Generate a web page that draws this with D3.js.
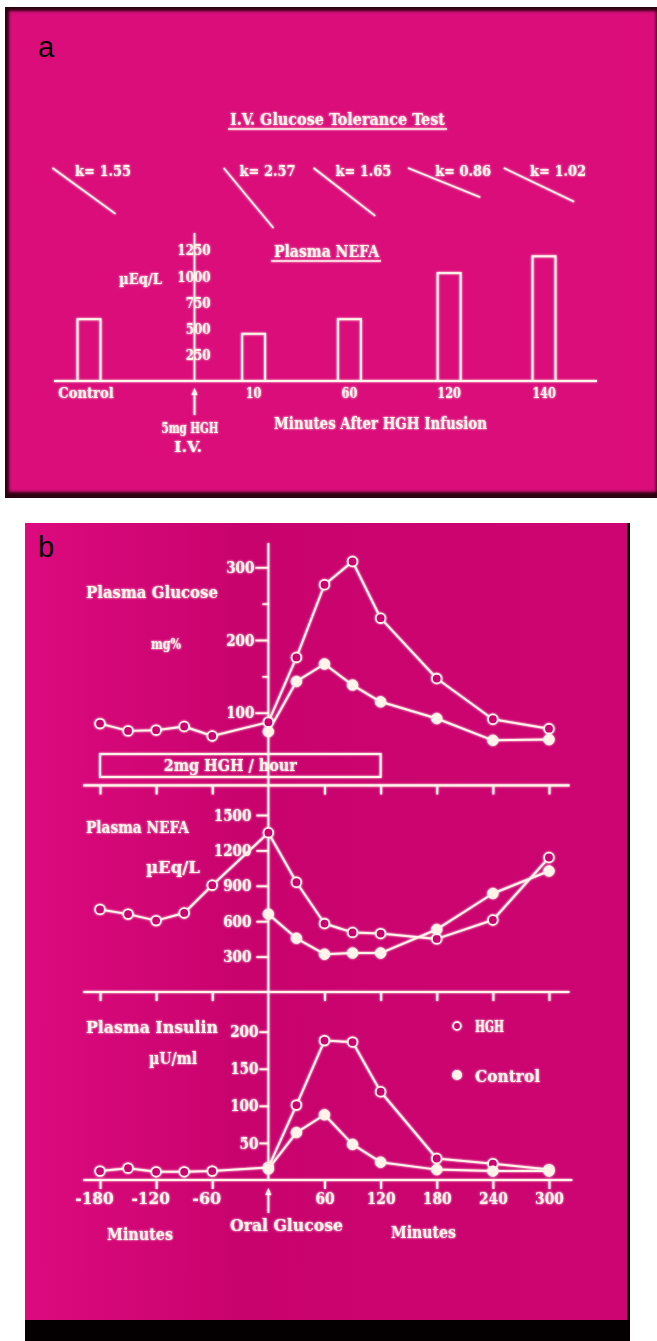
<!DOCTYPE html>
<html>
<head>
<meta charset="utf-8">
<script src="https://cdn.jsdelivr.net/npm/d3@7"></script>
<style>
body { margin: 0; background: #ffffff; }
svg { display: block; }
.font {
    font-family: "DejaVu Serif Condensed", "DejaVu Serif", serif;
    font-weight: bold;
    font-stretch: condensed;
    fill: #fff3ea;
}
.panel-letter { font-family: "Liberation Sans", Arial, sans-serif; fill: #000; }
</style>
</head>
<body>
<svg id="chart"></svg>
<script>
const SVG_WIDTH = 657;
const SVG_HEIGHT = 1341;
const INK = "#fff3ea";
const PINK_A = "#da087a";
const PINK_B = "#ca046f";

// ---- panel a : IV glucose tolerance + plasma NEFA bars
const NEFA_CATEGORIES = ["Control", "10", "60", "120", "140"];
const NEFA_VALUES = [590, 450, 590, 1030, 1190];
const K_VALUES = [1.55, 2.57, 1.65, 0.86, 1.02];
const NEFA_BAR_TICKS = [250, 500, 750, 1000, 1250];
// where each category sits along the baseline (HGH injection at 1.09)
const CATEGORY_SLOTS = [0, 1.7, 2.69, 3.72, 4.7];
const INJECTION_SLOT = 1.09;

// ---- panel b : oral glucose with HGH infusion
const TIMES = [-180, -150, -120, -90, -60, 0, 30, 60, 90, 120, 180, 240, 300];
const CONTROL_TIMES = [0, 30, 60, 90, 120, 180, 240, 300];
const TIME_TICKS = [-180, -120, -60, 60, 120, 180, 240, 300];
const GLUCOSE_HGH = [85, 75, 76, 81, 68, 87, 176, 276, 308, 230, 147, 91, 78];
const GLUCOSE_CONTROL = [74, 143, 167, 138, 115, 92, 62, 63];
const NEFA_HGH = [700, 660, 605, 670, 905, 1350, 930, 580, 505, 495, 450, 610, 1140];
const NEFA_CONTROL = [660, 455, 320, 330, 330, 530, 835, 1025];
const INSULIN_HGH = [12, 16, 11, 11, 12, 17, 101, 188, 186, 119, 29, 22, 14];
const INSULIN_CONTROL = [15, 64, 88, 48, 24, 14, 12, 12];
const GLUCOSE_TICKS = [100, 200, 300];
const GLUCOSE_MINOR = [150, 250];
const NEFA_TICKS = [300, 600, 900, 1200, 1500];
const INSULIN_TICKS = [50, 100, 150, 200];
const INFUSION = [-180, 120];

var svg = d3.select("#chart")
    .attr("width", SVG_WIDTH)
    .attr("height", SVG_HEIGHT);

var defs = svg.append("defs");
var glow = defs.append("filter")
    .attr("id", "glow")
    .attr("filterUnits", "userSpaceOnUse")
    .attr("x", 0).attr("y", 0)
    .attr("width", SVG_WIDTH).attr("height", SVG_HEIGHT);
glow.append("feGaussianBlur")
    .attr("in", "SourceGraphic")
    .attr("stdDeviation", 0.8)
    .attr("result", "blur");
var merge = glow.append("feMerge");
merge.append("feMergeNode").attr("in", "blur");
merge.append("feMergeNode").attr("in", "SourceGraphic");

var soft = defs.append("filter").attr("id", "soft");
soft.append("feGaussianBlur").attr("stdDeviation", 1.4);

var gradB = defs.append("linearGradient")
    .attr("id", "pinkB")
    .attr("x1", "0").attr("x2", "1").attr("y1", "0").attr("y2", "0");
gradB.append("stop").attr("offset", "0%").attr("stop-color", "#dc0a7e");
gradB.append("stop").attr("offset", "35%").attr("stop-color", "#c9036e");
gradB.append("stop").attr("offset", "100%").attr("stop-color", "#cd0572");

// helper for slide lettering
function label(g, txt, x, y, size, width, anchor) {
    var t = g.append("text")
        .attr("x", x)
        .attr("y", y)
        .attr("font-size", size)
        .attr("text-anchor", anchor || "start")
        .classed("font", true)
        .text(txt);
    if (width) {
        t.attr("textLength", width).attr("lengthAdjust", "spacingAndGlyphs");
    }
    return t;
}

// squeeze axis labels to the slide's narrow lettering
function styleTicks(sel, size, perChar) {
    sel.classed("font", true)
        .attr("fill", null)
        .attr("font-size", size)
        .attr("lengthAdjust", "spacingAndGlyphs")
        .attr("textLength", function() {
            return this.textContent.length * perChar;
        });
}

function arrowUp(g, cx, yTop, yBottom) {
    g.append("line")
        .attr("x1", cx).attr("x2", cx)
        .attr("y1", yTop + 4).attr("y2", yBottom)
        .attr("stroke", INK).attr("stroke-width", 1.8);
    g.append("path")
        .attr("d", "M" + cx + "," + yTop + " l-3,7 l6,0 z")
        .attr("fill", INK);
}

// ================= panel a =================
svg.append("rect")
    .attr("x", 5).attr("y", 7)
    .attr("width", 652).attr("height", 491)
    .attr("fill", "#2a0410");
svg.append("rect")
    .attr("x", 9).attr("y", 11)
    .attr("width", 647).attr("height", 481)
    .attr("fill", PINK_A)
    .attr("filter", "url(#soft)");
svg.append("text")
    .attr("x", 38).attr("y", 57)
    .attr("font-size", 29)
    .classed("panel-letter", true)
    .text("a");

var gA = svg.append("g").attr("filter", "url(#glow)");

label(gA, "I.V. Glucose Tolerance Test", 230, 125, 16, 215);
gA.append("line")
    .attr("x1", 228).attr("x2", 447).attr("y1", 129).attr("y2", 129)
    .attr("stroke", INK).attr("stroke-width", 1.6);

var slotScale = d3.scaleLinear().domain([0, 4.7]).range([89, 544]);
var barCenter = function(i) { return slotScale(CATEGORY_SLOTS[i]); };
var yA = d3.scaleLinear().domain([0, 1250]).range([381, 250]);
var slopeScale = d3.scaleLinear().domain([0, 1]).range([0, 0.47]);

// disappearance slopes, one per category
K_VALUES.forEach(function(k, i) {
    var ang = Math.atan(slopeScale(k));
    var len = 78;
    var dx = len * Math.cos(ang);
    var dy = len * Math.sin(ang);
    var x0 = barCenter(i) - dx / 2 - 5;
    gA.append("line")
        .attr("x1", x0).attr("y1", 168)
        .attr("x2", x0 + dx).attr("y2", 168 + dy)
        .attr("stroke", INK).attr("stroke-width", 1.6);
    label(gA, "k= " + k.toFixed(2), barCenter(i) - 14, 176, 15, 56);
});

label(gA, "Plasma NEFA", 274, 257, 16, 105);
gA.append("line")
    .attr("x1", 271).attr("x2", 381).attr("y1", 261).attr("y2", 261)
    .attr("stroke", INK).attr("stroke-width", 1.6);
label(gA, "\u00B5Eq/L", 119, 284, 15, 43);

gA.selectAll(".nefa-bar")
    .data(NEFA_VALUES)
    .enter()
    .append("rect")
    .classed("nefa-bar", true)
    .attr("x", function(d, i) { return barCenter(i) - 11.5; })
    .attr("width", 23)
    .attr("y", function(d) { return yA(d); })
    .attr("height", function(d) { return yA(0) - yA(d); })
    .attr("fill", "none")
    .attr("stroke", INK)
    .attr("stroke-width", 2);

var injX = slotScale(INJECTION_SLOT);
var yAxisA = d3.axisLeft(yA)
    .tickValues(NEFA_BAR_TICKS)
    .tickSize(0)
    .tickPadding(-16)
    .tickFormat(d3.format("d"));
var yAxisAGroup = gA.append("g")
    .attr("transform", "translate(" + injX + ",0)")
    .call(yAxisA);
yAxisAGroup.select(".domain").remove();
styleTicks(yAxisAGroup.selectAll("text"), 15, 8.3);
gA.append("line")
    .attr("x1", injX).attr("x2", injX)
    .attr("y1", yA(1250) - 17).attr("y2", yA(0))
    .attr("stroke", INK).attr("stroke-width", 1.6);

gA.append("line")
    .attr("x1", 54).attr("x2", 597)
    .attr("y1", yA(0)).attr("y2", yA(0))
    .attr("stroke", INK).attr("stroke-width", 2.2);

var catLabels = gA.selectAll(".cat-label")
    .data(NEFA_CATEGORIES)
    .enter()
    .append("text")
    .classed("cat-label", true)
    .attr("x", function(d, i) { return barCenter(i) - (i === 0 ? 3 : 0); })
    .attr("y", 398)
    .attr("text-anchor", "middle")
    .text(function(d) { return d; });
styleTicks(catLabels, 15, 7.9);

arrowUp(gA, injX, 388, 415);
label(gA, "5mg HGH", 190, 433, 15, 57, "middle");
label(gA, "I.V.", 188, 452, 15, 28, "middle");
label(gA, "Minutes After HGH Infusion", 274, 429, 16, 213);

// ================= panel b =================
svg.append("rect")
    .attr("x", 25).attr("y", 523)
    .attr("width", 605).attr("height", 818)
    .attr("fill", "#040002");
svg.append("rect")
    .attr("x", 25).attr("y", 523)
    .attr("width", 602).attr("height", 797)
    .attr("fill", "url(#pinkB)");
svg.append("text")
    .attr("x", 38).attr("y", 557)
    .attr("font-size", 29)
    .classed("panel-letter", true)
    .text("b");

var gB = svg.append("g").attr("filter", "url(#glow)");

var x = d3.scaleLinear().domain([-180, 300]).range([100, 549]);
var yG = d3.scaleLinear().domain([0, 300]).range([785.4, 567.3]);
var yN = d3.scaleLinear().domain([0, 1500]).range([992, 815]);
var yI = d3.scaleLinear().domain([0, 200]).range([1180, 1031.7]);
var x0 = x(0);

// time axes under each sub-plot
[yG, yN, yI].forEach(function(yScale, idx) {
    var last = idx === 2;
    var axis = d3.axisBottom(x)
        .tickValues(TIME_TICKS)
        .tickSize(9)
        .tickPadding(4)
        .tickFormat(function(d) { return last ? String(d) : ""; });
    var grp = gB.append("g")
        .attr("transform", "translate(0," + yScale(0) + ")")
        .call(axis);
    grp.select(".domain").remove();
    grp.selectAll("line").attr("stroke", INK).attr("stroke-width", 2);
    if (last) {
        styleTicks(grp.selectAll("text"), 16, 9.6);
        grp.selectAll("text")
            .attr("dx", function(d) { return d < 0 ? -6 : 0; });
    }
    grp.append("line")
        .attr("x1", x(-198)).attr("x2", x(last ? 325 : 322))
        .attr("y1", 0).attr("y2", 0)
        .attr("stroke", INK).attr("stroke-width", 2.2);
});

// shared vertical axis at oral glucose
gB.append("line")
    .attr("x1", x0).attr("x2", x0)
    .attr("y1", 543).attr("y2", yI(0))
    .attr("stroke", INK).attr("stroke-width", 1.8);

function valueAxis(yScale, ticks, size, pad, minor) {
    var grp = gB.append("g")
        .attr("transform", "translate(" + x0 + ",0)")
        .call(d3.axisLeft(yScale)
            .tickValues(ticks)
            .tickSize(size)
            .tickPadding(pad)
            .tickFormat(d3.format("d")));
    grp.select(".domain").remove();
    grp.selectAll("line").attr("stroke", INK).attr("stroke-width", 1.8);
    styleTicks(grp.selectAll("text"), 16, 9.4);
    if (minor) {
        var m = gB.append("g")
            .attr("transform", "translate(" + x0 + ",0)")
            .call(d3.axisLeft(yScale).tickValues(minor).tickSize(6).tickFormat(""));
        m.select(".domain").remove();
        m.selectAll("line").attr("stroke", INK).attr("stroke-width", 1.6);
    }
}
valueAxis(yG, GLUCOSE_TICKS, 13, 1, GLUCOSE_MINOR);
valueAxis(yN, NEFA_TICKS, 12, 5);
valueAxis(yI, INSULIN_TICKS, 9, 1);

function series(yScale, times, values, open) {
    var pts = d3.zip(times, values).map(function(p) { return { t: p[0], v: p[1] }; });
    var line = d3.line()
        .x(function(d) { return x(d.t); })
        .y(function(d) { return yScale(d.v); });
    gB.append("path")
        .datum(pts)
        .attr("d", line)
        .attr("fill", "none")
        .attr("stroke", INK)
        .attr("stroke-width", 2)
        .attr("stroke-linejoin", "round");
    gB.append("g")
        .selectAll("circle")
        .data(pts)
        .enter()
        .append("circle")
        .attr("cx", function(d) { return x(d.t); })
        .attr("cy", function(d) { return yScale(d.v); })
        .attr("r", open ? 4.8 : 5.3)
        .attr("fill", open ? PINK_B : INK)
        .attr("stroke", INK)
        .attr("stroke-width", open ? 1.8 : 0.8);
}
series(yG, CONTROL_TIMES, GLUCOSE_CONTROL, false);
series(yG, TIMES, GLUCOSE_HGH, true);
series(yN, TIMES, NEFA_HGH, true);
series(yN, CONTROL_TIMES, NEFA_CONTROL, false);
series(yI, TIMES, INSULIN_HGH, true);
series(yI, CONTROL_TIMES, INSULIN_CONTROL, false);

// infusion bar
gB.append("rect")
    .attr("x", x(INFUSION[0])).attr("y", 754)
    .attr("width", x(INFUSION[1]) - x(INFUSION[0]))
    .attr("height", 23)
    .attr("fill", "none")
    .attr("stroke", INK)
    .attr("stroke-width", 2);
label(gB, "2mg HGH / hour", (x(INFUSION[0]) + x(INFUSION[1])) / 2 - 10, 771, 16, 133, "middle");

label(gB, "Plasma Glucose", 86, 598, 16, 132);
label(gB, "mg%", 151, 649, 15, 30);
label(gB, "Plasma NEFA", 86, 833, 16, 103);
label(gB, "\u00B5Eq/L", 146, 873, 17, 54);
label(gB, "Plasma Insulin", 86, 1033, 16, 132);
label(gB, "\u00B5U/ml", 149, 1064, 17, 48);

// legend
gB.append("circle")
    .attr("cx", 457).attr("cy", 1026).attr("r", 3.8)
    .attr("fill", PINK_B).attr("stroke", INK).attr("stroke-width", 1.8);
label(gB, "HGH", 475, 1032, 16, 29);
gB.append("circle")
    .attr("cx", 457).attr("cy", 1075).attr("r", 5)
    .attr("fill", INK);
label(gB, "Control", 475, 1082, 16, 65);

arrowUp(gB, x0, 1188, 1213);
label(gB, "Oral Glucose", 230, 1231, 16, 113);
label(gB, "Minutes", 107, 1240, 16, 66);
label(gB, "Minutes", 391, 1238, 16, 65);
</script>
</body>
</html>
